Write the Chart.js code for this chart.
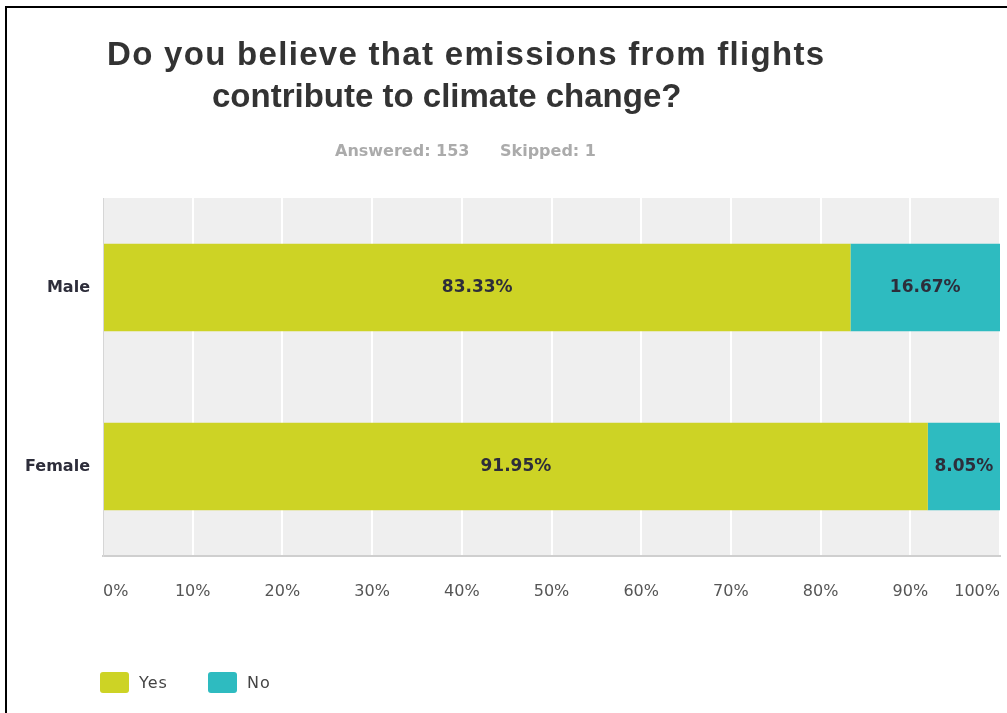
<!DOCTYPE html>
<html>
<head>
<meta charset="utf-8">
<title>Emissions from flights</title>
<script src="https://cdn.jsdelivr.net/npm/chart.js@4.4.1/dist/chart.umd.min.js"></script>
<style>
  html, body { margin: 0; padding: 0; background: #fff; overflow: hidden; }
  #wrap { position: relative; width: 1007px; height: 713px; }
  #frame {
    position: absolute; left: 5px; top: 6px; right: -10px; bottom: -10px;
    border-left: 2px solid #000; border-top: 2px solid #000; pointer-events: none;
  }
</style>
</head>
<body>
<div id="wrap">
  <canvas id="chart" width="1007" height="713"></canvas>
  <div id="frame"></div>
</div>
<script>
// survey question + response counts
const titleLines = ['Do you believe that emissions from flights', 'contribute to climate change?'];
const answeredText = 'Answered: 153';
const skippedText = 'Skipped: 1';

// answers split by gender (percent of respondents)
const categories = ['Male', 'Female'];
const yesValues = [83.33, 91.95];
const noValues = [16.67, 8.05];
const seriesNames = ['Yes', 'No'];
const seriesColors = ['#cdd325', '#2ebbc0'];

// x axis runs 0..100 in steps of 10
const tickStep = 10;
const tickMax = 100;

const sans = '"DejaVu Sans", Verdana, sans-serif';

// grey plot background behind the bars
const plotBackground = {
    id: 'plotBackground',
    beforeDraw(chart) {
        const { ctx, chartArea: a } = chart;
        ctx.save();
        ctx.fillStyle = '#efefef';
        ctx.fillRect(a.left, a.top, a.right - a.left, a.bottom - a.top);
        ctx.restore();
    }
};

// title and answered/skipped line
const headings = {
    id: 'headings',
    afterDraw(chart) {
        const ctx = chart.ctx;
        ctx.save();
        ctx.textAlign = 'left';
        ctx.textBaseline = 'alphabetic';
        ctx.fillStyle = '#333333';
        ctx.font = 'bold 33px "Liberation Sans", Arial, sans-serif';
        ctx.letterSpacing = '1.3px';
        ctx.fillText(titleLines[0], 107, 65);
        ctx.letterSpacing = '0px';
        ctx.fillText(titleLines[1], 212, 107);

        ctx.fillStyle = '#ababab';
        ctx.font = 'bold 16px ' + sans;
        ctx.fillText(answeredText, 335, 156);
        ctx.fillText(skippedText, 500, 156);
        ctx.restore();
    }
};

// percentage printed in the middle of every segment
const barLabels = {
    id: 'barLabels',
    afterDatasetsDraw(chart) {
        const ctx = chart.ctx;
        ctx.save();
        ctx.font = 'bold 17px ' + sans;
        ctx.fillStyle = '#2d2d3a';
        ctx.textAlign = 'center';
        ctx.textBaseline = 'middle';
        chart.data.datasets.forEach((ds, i) => {
            chart.getDatasetMeta(i).data.forEach((bar, j) => {
                const { x, base, y } = bar.getProps(['x', 'base', 'y'], true);
                ctx.fillText(ds.data[j].toFixed(2) + '%', (x + base) / 2, y);
            });
        });
        ctx.restore();
    }
};

// legend squares under the axis
const legendBoxes = {
    id: 'legendBoxes',
    afterDraw(chart) {
        const ctx = chart.ctx;
        const slots = [100, 208];
        ctx.save();
        ctx.font = '16px ' + sans;
        ctx.letterSpacing = '1px';
        ctx.textBaseline = 'middle';
        chart.data.datasets.forEach((ds, i) => {
            const x = slots[i];
            ctx.fillStyle = ds.backgroundColor;
            ctx.beginPath();
            ctx.roundRect(x, 672, 29, 21, 3);
            ctx.fill();
            ctx.fillStyle = '#444';
            ctx.fillText(ds.label, x + 39, 684);
        });
        ctx.restore();
    }
};

const ctx = document.getElementById('chart').getContext('2d');
new Chart(ctx, {
    type: 'bar',
    data: {
        labels: categories,
        datasets: [
            { label: seriesNames[0], data: yesValues, backgroundColor: seriesColors[0] },
            { label: seriesNames[1], data: noValues, backgroundColor: seriesColors[1] }
        ]
    },
    options: {
        indexAxis: 'y',
        responsive: false,
        animation: false,
        categoryPercentage: 1,
        barPercentage: 0.49,
        layout: { padding: { top: 198, right: 7, bottom: 0, left: 0 } },
        plugins: {
            legend: { display: false },
            tooltip: { enabled: false }
        },
        scales: {
            x: {
                stacked: true,
                min: 0,
                max: tickMax,
                afterFit(scale) {
                    scale.height = 157;
                    // labels are aligned inward, no overflow room needed
                    scale.paddingLeft = 0;
                    scale.paddingRight = 0;
                },
                ticks: {
                    stepSize: tickStep,
                    align: 'inner',
                    padding: 26,
                    color: '#555',
                    font: { family: sans, size: 16 },
                    callback: v => v + '%'
                },
                grid: {
                    color: c => (c.index === 0 ? 'rgba(0,0,0,0)' : '#ffffff'),
                    lineWidth: 2,
                    drawTicks: false
                },
                border: { display: true, color: '#cfcfcf', width: 2 }
            },
            y: {
                stacked: true,
                afterFit(scale) { scale.width = 103; },
                ticks: {
                    padding: 13,
                    color: '#2d2d3a',
                    font: { family: sans, size: 16, weight: 'bold' }
                },
                grid: { display: false, drawTicks: false },
                border: { display: true, color: '#d6d6d6', width: 1 }
            }
        }
    },
    plugins: [plotBackground, barLabels, headings, legendBoxes]
});
</script>
</body>
</html>
